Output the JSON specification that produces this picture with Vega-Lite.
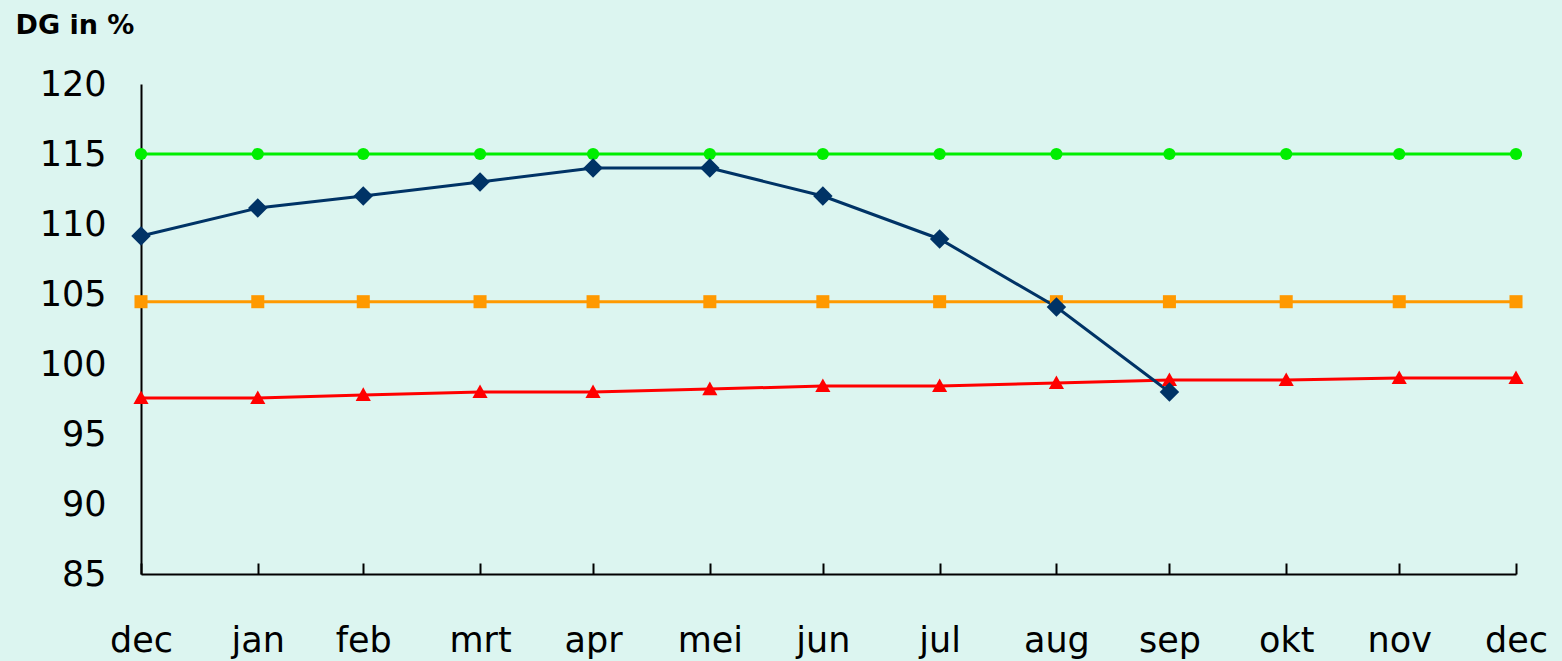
{
  "$schema": "https://vega.github.io/schema/vega-lite/v6.json",
  "width": 1375,
  "height": 490,
  "autosize": "none",
  "padding": {"left": 141, "top": 84, "right": 46, "bottom": 87},
  "background": "#dcf5f0",
  "config": {"view": {"stroke": null}},
  "data": {
    "values": [
      {"date": "2012-12-31", "series": "bovengrens", "value": 115},
      {"date": "2013-01-31", "series": "bovengrens", "value": 115},
      {"date": "2013-02-28", "series": "bovengrens", "value": 115},
      {"date": "2013-03-31", "series": "bovengrens", "value": 115},
      {"date": "2013-04-30", "series": "bovengrens", "value": 115},
      {"date": "2013-05-31", "series": "bovengrens", "value": 115},
      {"date": "2013-06-30", "series": "bovengrens", "value": 115},
      {"date": "2013-07-31", "series": "bovengrens", "value": 115},
      {"date": "2013-08-31", "series": "bovengrens", "value": 115},
      {"date": "2013-09-30", "series": "bovengrens", "value": 115},
      {"date": "2013-10-31", "series": "bovengrens", "value": 115},
      {"date": "2013-11-30", "series": "bovengrens", "value": 115},
      {"date": "2013-12-31", "series": "bovengrens", "value": 115},
      {"date": "2012-12-31", "series": "norm", "value": 104.45},
      {"date": "2013-01-31", "series": "norm", "value": 104.45},
      {"date": "2013-02-28", "series": "norm", "value": 104.45},
      {"date": "2013-03-31", "series": "norm", "value": 104.45},
      {"date": "2013-04-30", "series": "norm", "value": 104.45},
      {"date": "2013-05-31", "series": "norm", "value": 104.45},
      {"date": "2013-06-30", "series": "norm", "value": 104.45},
      {"date": "2013-07-31", "series": "norm", "value": 104.45},
      {"date": "2013-08-31", "series": "norm", "value": 104.45},
      {"date": "2013-09-30", "series": "norm", "value": 104.45},
      {"date": "2013-10-31", "series": "norm", "value": 104.45},
      {"date": "2013-11-30", "series": "norm", "value": 104.45},
      {"date": "2013-12-31", "series": "norm", "value": 104.45},
      {"date": "2012-12-31", "series": "ondergrens", "value": 97.57},
      {"date": "2013-01-31", "series": "ondergrens", "value": 97.57},
      {"date": "2013-02-28", "series": "ondergrens", "value": 97.79},
      {"date": "2013-03-31", "series": "ondergrens", "value": 98.0},
      {"date": "2013-04-30", "series": "ondergrens", "value": 98.0},
      {"date": "2013-05-31", "series": "ondergrens", "value": 98.21},
      {"date": "2013-06-30", "series": "ondergrens", "value": 98.43},
      {"date": "2013-07-31", "series": "ondergrens", "value": 98.43},
      {"date": "2013-08-31", "series": "ondergrens", "value": 98.64},
      {"date": "2013-09-30", "series": "ondergrens", "value": 98.86},
      {"date": "2013-10-31", "series": "ondergrens", "value": 98.86},
      {"date": "2013-11-30", "series": "ondergrens", "value": 99.0},
      {"date": "2013-12-31", "series": "ondergrens", "value": 99.0},
      {"date": "2012-12-31", "series": "DG", "value": 109.14},
      {"date": "2013-01-31", "series": "DG", "value": 111.14},
      {"date": "2013-02-28", "series": "DG", "value": 112.0},
      {"date": "2013-03-31", "series": "DG", "value": 113.0},
      {"date": "2013-04-30", "series": "DG", "value": 114.0},
      {"date": "2013-05-31", "series": "DG", "value": 114.0},
      {"date": "2013-06-30", "series": "DG", "value": 112.0},
      {"date": "2013-07-31", "series": "DG", "value": 108.93},
      {"date": "2013-08-31", "series": "DG", "value": 104.07},
      {"date": "2013-09-30", "series": "DG", "value": 98.0}
    ]
  },
  "encoding": {
    "x": {
      "field": "date",
      "type": "temporal",
      "scale": {"type": "utc", "nice": false},
      "axis": {
        "title": null,
        "grid": false,
        "domainColor": "#000000",
        "domainWidth": 2,
        "tickColor": "#000000",
        "tickWidth": 2,
        "tickSize": -11,
        "labelFont": "DejaVu Sans",
        "labelFontSize": 35,
        "labelColor": "#000000",
        "labelBaseline": "alphabetic",
        "labelPadding": 88,
        "labelFlush": false,
        "labelOverlap": false,
        "values": [
          {"year": 2012, "month": 12, "date": 31, "utc": true},
          {"year": 2013, "month": 1, "date": 31, "utc": true},
          {"year": 2013, "month": 2, "date": 28, "utc": true},
          {"year": 2013, "month": 3, "date": 31, "utc": true},
          {"year": 2013, "month": 4, "date": 30, "utc": true},
          {"year": 2013, "month": 5, "date": 31, "utc": true},
          {"year": 2013, "month": 6, "date": 30, "utc": true},
          {"year": 2013, "month": 7, "date": 31, "utc": true},
          {"year": 2013, "month": 8, "date": 31, "utc": true},
          {"year": 2013, "month": 9, "date": 30, "utc": true},
          {"year": 2013, "month": 10, "date": 31, "utc": true},
          {"year": 2013, "month": 11, "date": 30, "utc": true},
          {"year": 2013, "month": 12, "date": 31, "utc": true}
        ],
        "labelExpr": "['jan','feb','mrt','apr','mei','jun','jul','aug','sep','okt','nov','dec'][utcmonth(datum.value)]"
      }
    },
    "y": {
      "field": "value",
      "type": "quantitative",
      "scale": {"domain": [85, 120], "nice": false, "zero": false},
      "axis": {
        "title": "DG in %",
        "titleAngle": 0,
        "titleAlign": "left",
        "titleBaseline": "alphabetic",
        "titleX": -126,
        "titleY": -51,
        "titleFont": "DejaVu Sans",
        "titleFontSize": 27,
        "titleFontWeight": "bold",
        "titleColor": "#000000",
        "grid": false,
        "ticks": false,
        "domainColor": "#000000",
        "domainWidth": 2,
        "values": [85, 90, 95, 100, 105, 110, 115, 120],
        "labelFont": "DejaVu Sans",
        "labelFontSize": 35,
        "labelColor": "#000000",
        "labelPadding": 35,
        "labelFlush": false,
        "labelOverlap": false
      }
    },
    "color": {
      "field": "series",
      "type": "nominal",
      "scale": {
        "domain": ["bovengrens", "norm", "ondergrens", "DG"],
        "range": ["#00ee00", "#ff9900", "#ff0000", "#003366"]
      },
      "legend": null
    }
  },
  "layer": [
    {"mark": {"type": "line", "strokeWidth": 3}},
    {
      "transform": [{"filter": "datum.series === 'bovengrens'"}],
      "mark": {"type": "point", "filled": true, "opacity": 1, "shape": "circle", "size": 150}
    },
    {
      "transform": [{"filter": "datum.series === 'norm'"}],
      "mark": {"type": "point", "filled": true, "opacity": 1, "shape": "square", "size": 170}
    },
    {
      "transform": [{"filter": "datum.series === 'ondergrens'"}],
      "mark": {"type": "point", "filled": true, "opacity": 1, "shape": "M0,-1L1,0.8L-1,0.8Z", "size": 230}
    },
    {
      "transform": [{"filter": "datum.series === 'DG'"}],
      "mark": {"type": "point", "filled": true, "opacity": 1, "shape": "M0,-1L1,0L0,1L-1,0Z", "size": 380}
    }
  ]
}
